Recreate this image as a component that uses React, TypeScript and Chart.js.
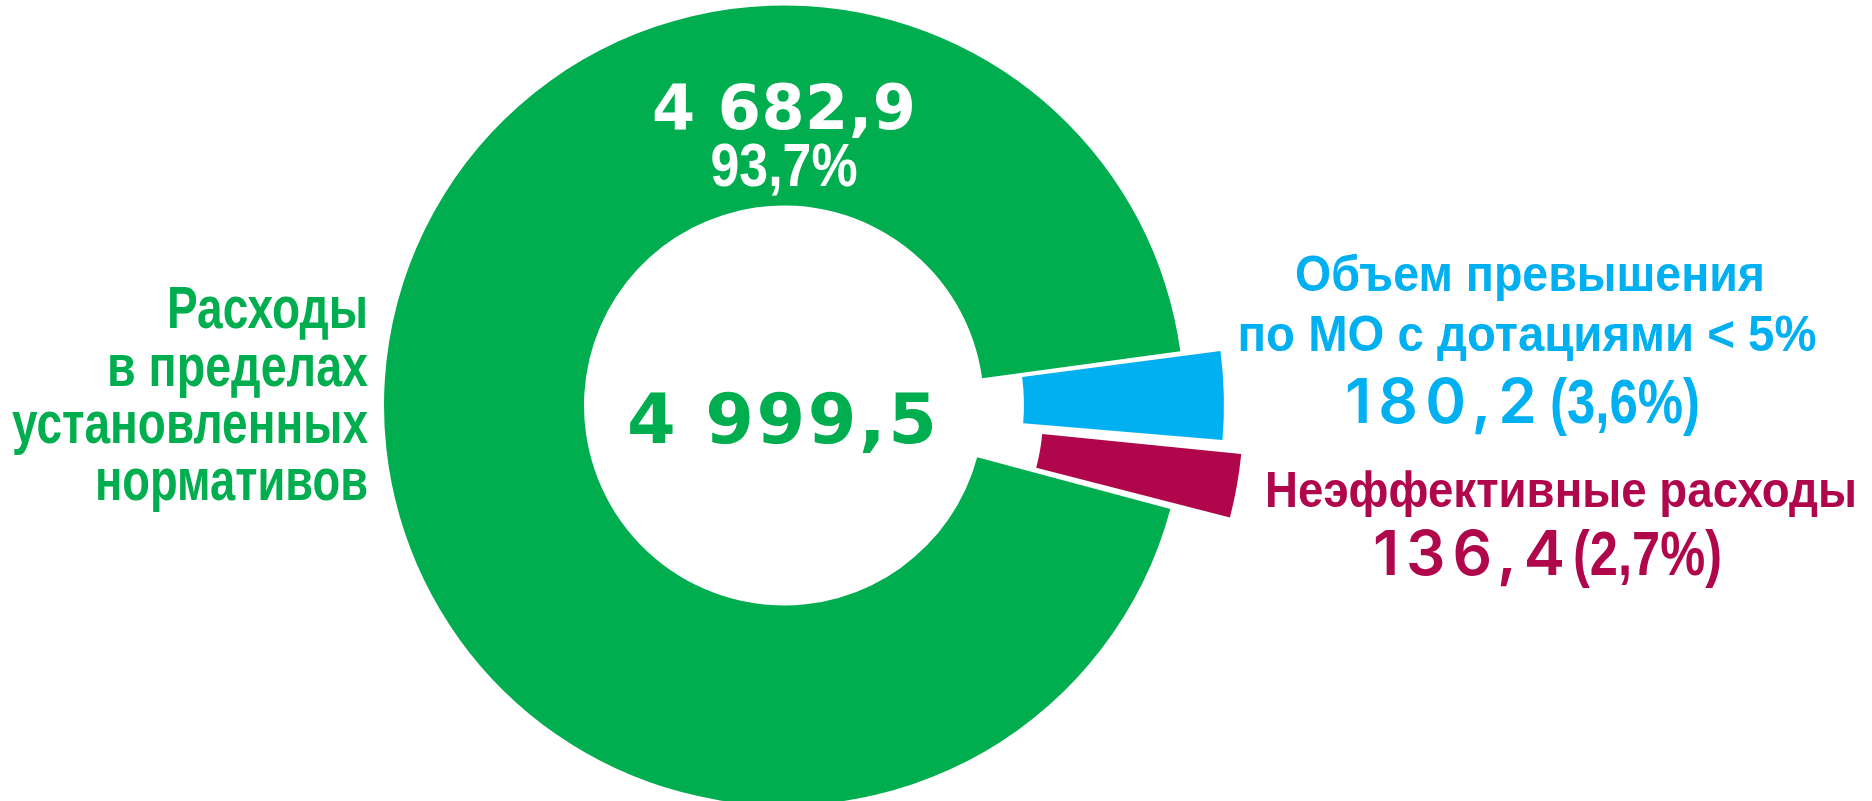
import React, { useEffect, useRef } from 'react';
import { Chart, registerables } from 'chart.js';

Chart.register(...registerables);

// ---- data ----
const categories = [
  'Расходы в пределах установленных нормативов',
  'Объем превышения по МО с дотациями < 5%',
  'Неэффективные расходы',
];
const categoryLines = [
  ['Расходы', 'в пределах', 'установленных', 'нормативов'],
  ['Объем превышения', 'по МО с дотациями < 5%'],
  ['Неэффективные расходы'],
];
const values = [4682.9, 180.2, 136.4];
const colors = ['#00AE4F', '#00B0F0', '#B0074C'];
const explode = [0, 90, 131];

const NARROW = '"Liberation Sans Narrow", "Liberation Sans", sans-serif';
const GEO = '"DejaVu Sans", "Noto Sans", sans-serif';
const GEO_MED = 'Inter, "Noto Sans", sans-serif';

function fmt(v: number): string {
  const [i, d] = v.toFixed(1).split('.');
  return i.replace(/\B(?=(\d{3})+(?!\d))/g, ' ') + ',' + d;
}
function pct(v: number, total: number): string {
  return ((v / total) * 100).toFixed(1).replace('.', ',') + '%';
}

// draw text squeezed/stretched horizontally to a target width
function drawScaled(
  ctx: CanvasRenderingContext2D, text: string, x: number, y: number,
  align: 'left' | 'center' | 'right', font: string, color: string, width: number,
) {
  ctx.save();
  ctx.font = font;
  (ctx as any).letterSpacing = '0px';
  ctx.fillStyle = color;
  ctx.textBaseline = 'alphabetic';
  ctx.textAlign = align;
  const w0 = ctx.measureText(text).width;
  ctx.translate(x, y);
  ctx.scale(width / w0, 1);
  ctx.fillText(text, 0, 0);
  ctx.restore();
}

// draw text spread with letter spacing to a target width (left x given)
function drawSpaced(
  ctx: CanvasRenderingContext2D, text: string, left: number, y: number,
  font: string, color: string, width: number,
) {
  ctx.save();
  ctx.font = font;
  (ctx as any).letterSpacing = '0px';
  const w0 = ctx.measureText(text).width;
  const n = [...text].length;
  const s = n > 1 ? (width - w0) / (n - 1) : 0;
  ctx.fillStyle = color;
  ctx.textBaseline = 'alphabetic';
  ctx.textAlign = 'left';
  if (s >= 0) {
    (ctx as any).letterSpacing = `${s}px`;
    ctx.fillText(text, left, y);
  } else {
    ctx.translate(left, y);
    ctx.scale(width / w0, 1);
    ctx.fillText(text, 0, 0);
  }
  ctx.restore();
}

const labelPlugin = {
  id: 'labelPlugin',
  afterDraw(chart: any) {
    const ctx: CanvasRenderingContext2D = chart.ctx;
    const arc = chart.getDatasetMeta(0).data[0];
    const cx = arc.x;
    const cy = arc.y;
    const total = values.reduce((a, b) => a + b, 0);

    // centre total
    drawSpaced(ctx, fmt(total), cx - 157, cy + 37.5, `700 70px ${GEO}`, colors[0], 310);

    // green slice value
    drawSpaced(ctx, fmt(values[0]), cx - 132, cy - 276.5, `700 62px ${GEO}`, '#FFFFFF', 264);
    drawScaled(ctx, pct(values[0], total), cx, cy - 219.5, 'center', `700 62px ${NARROW}`, '#FFFFFF', 147);

    // left category label
    const leftBase = [328, 386, 443, 500];
    const leftW = [201, 261, 356, 273];
    categoryLines[0].forEach((t, i) => {
      drawScaled(ctx, t, 368, leftBase[i], 'right', `700 60px ${NARROW}`, colors[0], leftW[i]);
    });

    // blue label
    const blueBase = [291, 351];
    const blueX = [1530, 1527];
    const blueW = [470, 579];
    categoryLines[1].forEach((t, i) => {
      drawScaled(ctx, t, blueX[i], blueBase[i], 'center', `700 50px ${NARROW}`, colors[1], blueW[i]);
    });
    drawSpaced(ctx, fmt(values[1]), 1345, 423, `600 62px ${GEO_MED}`, colors[1], 192);
    drawScaled(ctx, '(' + pct(values[1], total) + ')', 1550, 423, 'left', `700 63px ${NARROW}`, colors[1], 150);

    // red label
    categoryLines[2].forEach((t) => {
      drawScaled(ctx, t, 1561, 507, 'center', `700 50px ${NARROW}`, colors[2], 592);
    });
    drawSpaced(ctx, fmt(values[2]), 1373, 575, `600 62px ${GEO_MED}`, colors[2], 192);
    drawScaled(ctx, '(' + pct(values[2], total) + ')', 1573, 575, 'left', `700 63px ${NARROW}`, colors[2], 149);
  },
};

export default function App() {
  const ref = useRef<HTMLCanvasElement | null>(null);

  useEffect(() => {
    if (!ref.current) return;
    const chart = new Chart(ref.current, {
      type: 'doughnut',
      data: {
        labels: categories,
        datasets: [
          {
            data: values,
            backgroundColor: colors,
            borderWidth: 0,
            offset: explode,
            hoverOffset: 0,
          } as any,
        ],
      },
      options: {
        animation: false,
        responsive: false,
        devicePixelRatio: 1,
        rotation: 105,
        radius: 400,
        cutout: '50%',
        layout: { padding: { left: 0, right: 304, top: 10, bottom: 0 } },
        plugins: {
          legend: { display: false },
          tooltip: { enabled: false },
        },
        events: [],
      } as any,
      plugins: [labelPlugin],
    });
    return () => chart.destroy();
  }, []);

  return (
    <div style={{ position: 'fixed', left: 0, top: 0, width: 1872, height: 801, background: '#fff', overflow: 'hidden' }}>
      <canvas ref={ref} width={1872} height={801} style={{ display: 'block', width: 1872, height: 801 }} />
    </div>
  );
}
